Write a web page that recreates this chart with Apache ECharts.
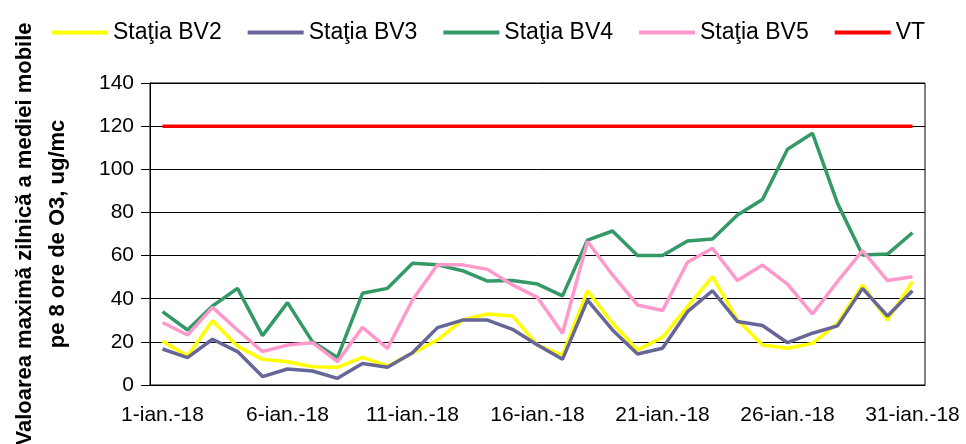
<!DOCTYPE html>
<html>
<head>
<meta charset="utf-8">
<script src="https://cdn.jsdelivr.net/npm/echarts@6/dist/echarts.min.js"></script>
<style>
html, body { margin: 0; padding: 0; background: #fff; }
#chart { width: 966px; height: 444px; }
</style>
</head>
<body>
<div id="chart"></div>
<script>
var zile = ['1-ian.-18', '2-ian.-18', '3-ian.-18', '4-ian.-18', '5-ian.-18', '6-ian.-18', '7-ian.-18', '8-ian.-18',
    '9-ian.-18', '10-ian.-18', '11-ian.-18', '12-ian.-18', '13-ian.-18', '14-ian.-18', '15-ian.-18', '16-ian.-18',
    '17-ian.-18', '18-ian.-18', '19-ian.-18', '20-ian.-18', '21-ian.-18', '22-ian.-18', '23-ian.-18', '24-ian.-18',
    '25-ian.-18', '26-ian.-18', '27-ian.-18', '28-ian.-18', '29-ian.-18', '30-ian.-18', '31-ian.-18'];

var bv2 = [20.4, 13.4, 29.8, 18, 11.9, 10.8, 8.5, 8.2, 12.8, 8.8, 14.7, 20.9, 30.1, 32.9, 32, 18.5,
    13.9, 43.7, 28.6, 16.2, 22.1, 36.3, 50.2, 30.1, 18.5, 17, 19.3, 28.6, 46.4, 30.1, 47.9];
var bv3 = [16.7, 12.7, 21.2, 15.5, 3.9, 7.4, 6.5, 3.1, 10, 8.2, 15, 26.6, 30.1, 30.1, 25.8, 18.5,
    11.9, 39.4, 25.5, 14.4, 17, 34, 43.7, 29.4, 27.6, 19.6, 24, 27.4, 44.8, 32, 43.7];
var bv4 = [34, 25.5, 36.6, 44.8, 22.9, 38.2, 20, 12.8, 42.5, 44.8, 56.4, 55.7, 53, 48.2, 48.4, 46.8,
    41.3, 67.2, 71.4, 60, 60, 66.8, 67.7, 78.8, 86, 109.3, 116.7, 84.2, 60.3, 60.7, 70.6];
var bv5 = [29, 23.2, 36, 25.5, 15.5, 18.5, 19.6, 10.8, 26.7, 17, 39.4, 55.7, 55.7, 53.6, 46.4, 40.6,
    24, 66.5, 51, 37.1, 34.5, 56.9, 63.4, 48.4, 55.6, 46.8, 32.9, 47.9, 62.3, 48.4, 50.2];
var vt = [120, 120, 120, 120, 120, 120, 120, 120, 120, 120, 120, 120, 120, 120, 120, 120,
    120, 120, 120, 120, 120, 120, 120, 120, 120, 120, 120, 120, 120, 120, 120];

var font = 'Liberation Sans, Arial, sans-serif';

var myChart = echarts.init(document.getElementById('chart'));
var option = {
    animation: false,
    textStyle: { fontFamily: font },
    legend: {
        left: 47,
        top: 16,
        icon: 'rect',
        itemWidth: 56,
        itemHeight: 4,
        itemGap: 26,
        textStyle: { fontSize: 23, color: '#000', fontFamily: font },
        data: ['Staţia BV2', 'Staţia BV3', 'Staţia BV4', 'Staţia BV5', 'VT']
    },
    grid: {
        left: 150,
        right: 41,
        top: 83,
        bottom: 59,
        outerBoundsMode: 'none',
        containLabel: false,
        show: true,
        borderColor: '#000',
        borderWidth: 1
    },
    xAxis: {
        type: 'category',
        boundaryGap: true,
        data: zile,
        axisLine: { lineStyle: { color: '#000', width: 1 } },
        axisTick: { interval: 4, length: 8, lineStyle: { color: '#000' } },
        axisLabel: { interval: 4, fontSize: 21, color: '#000', margin: 20, fontFamily: font }
    },
    yAxis: {
        type: 'value',
        min: 0,
        max: 140,
        interval: 20,
        name: 'Valoarea maximă zilnică a mediei mobile\npe 8 ore de O3, ug/mc',
        nameLocation: 'middle',
        nameGap: 76,
        nameTextStyle: { fontSize: 22, fontWeight: 'bold', color: '#000', lineHeight: 33, fontFamily: font },
        axisLine: { show: true, lineStyle: { color: '#000', width: 1 } },
        axisTick: { show: true, length: 9, lineStyle: { color: '#000' } },
        axisLabel: { fontSize: 21, color: '#000', margin: 16, fontFamily: font },
        splitLine: { lineStyle: { color: '#000', width: 1 } }
    },
    series: [
        { name: 'Staţia BV2', type: 'line', data: bv2, symbol: 'none', color: '#FFFF00', lineStyle: { width: 3.5 } },
        { name: 'Staţia BV3', type: 'line', data: bv3, symbol: 'none', color: '#666699', lineStyle: { width: 3.5 } },
        { name: 'Staţia BV4', type: 'line', data: bv4, symbol: 'none', color: '#339966', lineStyle: { width: 3.5 } },
        { name: 'Staţia BV5', type: 'line', data: bv5, symbol: 'none', color: '#FF99CC', lineStyle: { width: 3.5 } },
        { name: 'VT', type: 'line', data: vt, symbol: 'none', color: '#FF0000', lineStyle: { width: 3.5 } }
    ]
};
myChart.setOption(option);
</script>
</body>
</html>
